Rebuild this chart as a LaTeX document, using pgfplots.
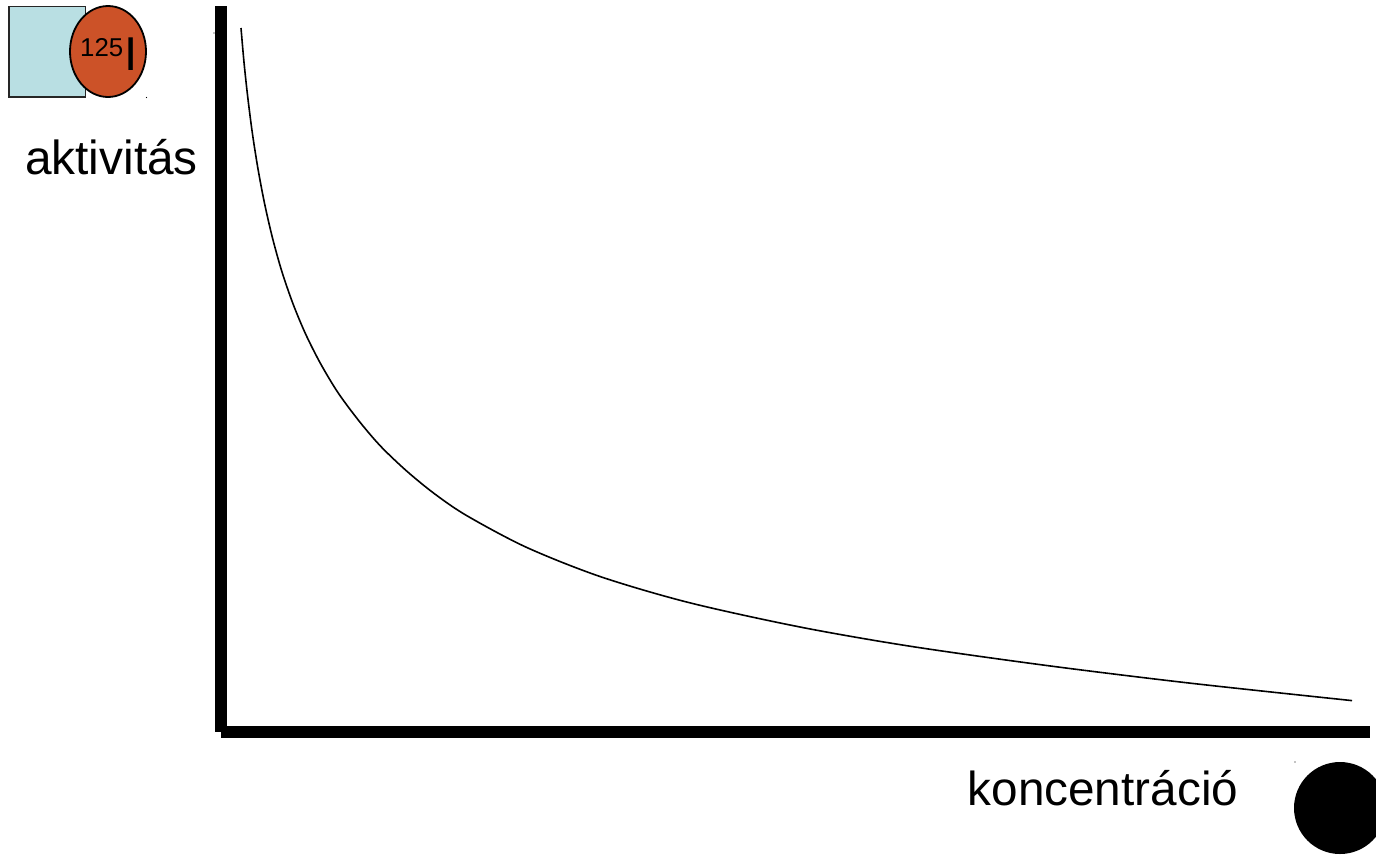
\documentclass[border=0pt]{standalone}
\usepackage{pgfplots}
\usepackage{fontspec}
\setmainfont{Liberation Sans}
\pgfplotsset{compat=1.18}
\definecolor{boxfill}{HTML}{B9DFE3}
\definecolor{ovalfill}{HTML}{CC5228}
\begin{document}
\begin{tikzpicture}
\path[use as bounding box] (0,0) rectangle (1376pt,855pt);
\begin{axis}[
  at={(0,0)}, anchor=south west,
  scale only axis, width=1376pt, height=855pt,
  xmin=0, xmax=1376, ymin=0, ymax=855, y dir=reverse,
  hide axis, clip=true, clip mode=individual,
]
% box and oval
\addplot[draw=black!85, line width=1.8pt, fill=boxfill] coordinates {(9,6.5)(85.5,6.5)(85.5,97)(9,97)} -- cycle;
\draw[black, line width=1.8pt, fill=ovalfill] (axis cs:108,51.5) ellipse [x radius=38pt, y radius=45.5pt];
\node[anchor=base west, inner sep=0pt, font=\fontsize{25.8}{30}\selectfont] at (axis cs:80,56) {125};
\node[anchor=base west, inner sep=0pt, font=\fontsize{47.5}{50}\selectfont] at (axis cs:124.5,70.5) {I};
% axes
\addplot[black, line width=12pt, line cap=butt] coordinates {(221,6)(221,732)};
\addplot[black, line width=12pt, line cap=butt] coordinates {(221,732)(1370,732)};
% curve
\addplot[black, line width=1.6pt, smooth, tension=0.5] coordinates {
(241,28)(244.1,63.3)(247.9,98.4)(252.5,134.1)(258.1,169.5)(264.6,203.7)(272.5,238)
(281.8,271.3)(293,303.8)(305.6,334)(320.6,363.7)(338.3,393.1)(360,422.2)(381,446.6)
(406.3,470.7)(434.3,493.6)(466.7,515.6)(526.2,547.2)(600,576.5)(689,602.6)(800,627)
(910,646.2)(1046.7,665.5)(1188,682.9)(1352,700.6)};
% labels
\node[anchor=base west, inner sep=0pt, font=\fontsize{47.8}{50}\selectfont] at (axis cs:25,174) {aktivitás};
\node[anchor=base west, inner sep=0pt, font=\fontsize{47.7}{50}\selectfont] at (axis cs:967.5,805) {koncentráció};
% black disc
\fill[black] (axis cs:1340,808) circle [radius=46pt];
% specks
\fill[black] (axis cs:214,33) circle [radius=0.7pt];
\fill[black] (axis cs:146.5,97.5) circle [radius=0.7pt];
\fill[black] (axis cs:1295,762) circle [radius=0.7pt];
\end{axis}
\end{tikzpicture}
\end{document}
